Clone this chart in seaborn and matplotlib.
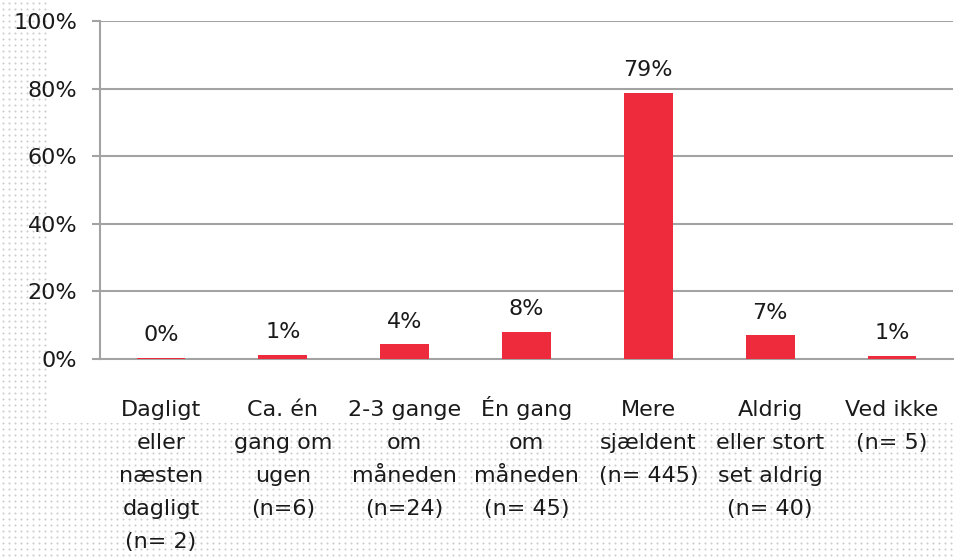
import numpy as np
import pandas as pd
import matplotlib
matplotlib.use("Agg")
import matplotlib.pyplot as plt
import matplotlib.transforms as mtransforms
import seaborn as sns

categories = [
    "Dagligt\neller\nnæsten\ndagligt\n(n= 2)",
    "Ca. én\ngang om\nugen\n(n=6)",
    "2-3 gange\nom\nmåneden\n(n=24)",
    "Én gang\nom\nmåneden\n(n= 45)",
    "Mere\nsjældent\n(n= 445)",
    "Aldrig\neller stort\nset aldrig\n(n= 40)",
    "Ved ikke\n(n= 5)",
]
values = [0.4, 1.2, 4.4, 8.0, 78.8, 7.1, 1.0]
value_labels = ["0%", "1%", "4%", "8%", "79%", "7%", "1%"]
yticks = [0, 20, 40, 60, 80, 100]
ytick_labels = ["0%", "20%", "40%", "60%", "80%", "100%"]

sns.set_style("white")
plt.rcParams["font.family"] = ["DejaVu Sans"]

W, H = 957, 557
fig = plt.figure(figsize=(W / 100, H / 100), dpi=100)

# dotted background
bg = fig.add_axes([0, 0, 1, 1], zorder=-10)
bg.set_xlim(0, W)
bg.set_ylim(H, 0)
bg.axis("off")
gx, gy = np.meshgrid(np.arange(3, W, 6.0), np.arange(3, H, 6.0))
bg.scatter(gx.ravel(), gy.ravel(), s=2.2, c="#cccccc", linewidths=0)
bg.add_patch(plt.Rectangle((50, -1), W - 49, 424, facecolor="white", edgecolor="none", zorder=3))

ax = fig.add_axes([100 / W, 1 - 359 / H, (953 - 100) / W, (359 - 21) / H])
ax.set_facecolor("none")

df = pd.DataFrame({"cat": categories, "val": values})
sns.barplot(data=df, x="cat", y="val", color="#ED2B3C", width=0.4, ax=ax,
            saturation=1, linewidth=0, zorder=3)

text_c = "#1a1a1a"
for i, (v, lab) in enumerate(zip(values, value_labels)):
    ax.annotate(lab, (i, v), xytext=(0, 9), textcoords="offset points",
                ha="center", va="bottom", fontsize=16, color=text_c)

grid_c = "#a3a3a3"
ax.set_ylim(0, 100)
ax.set_xlim(-0.5, len(categories) - 0.5)
ax.set_yticks(yticks)
ax.set_yticklabels(ytick_labels, fontsize=16, color=text_c)
for y in yticks[1:]:
    ax.axhline(y, color=grid_c, lw=1.5, zorder=1)

# category labels: one text per line, baselines on a fixed pitch
ax.set_xticks(range(len(categories)))
ax.set_xticklabels([])
base = mtransforms.blended_transform_factory(ax.transData, ax.transAxes)
for i, cat in enumerate(categories):
    for k, line in enumerate(cat.split("\n")):
        tr = base + mtransforms.ScaledTranslation(0, -(57 + 33 * k) / 100, fig.dpi_scale_trans)
        ax.text(i, 0, line, transform=tr, ha="center", va="baseline",
                fontsize=16, color=text_c, clip_on=False)

ax.set_xticks(np.arange(-0.5, len(categories), 1.0), minor=True)
ax.tick_params(axis="x", which="major", length=0)
ax.tick_params(axis="x", which="minor", length=6, width=1.5, color=grid_c, direction="out")
ax.tick_params(axis="y", length=6, width=1.5, color=grid_c, direction="out", pad=10.5, left=True)
ax.set_xlabel("")
ax.set_ylabel("")

for s in ["top", "right"]:
    ax.spines[s].set_visible(False)
for s in ["left", "bottom"]:
    ax.spines[s].set_color(grid_c)
    ax.spines[s].set_linewidth(1.5)

fig.savefig("out.png", dpi=100)
